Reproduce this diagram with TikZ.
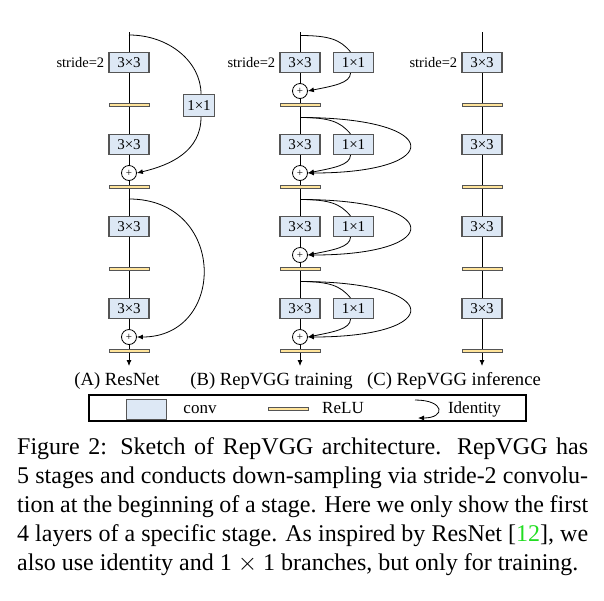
\documentclass[tikz,border=0pt]{standalone}
\usepackage{fontspec}
\setmainfont{Liberation Serif}
\usetikzlibrary{arrows.meta,positioning}

\definecolor{convfill}{HTML}{DDE8F5}
\definecolor{convline}{HTML}{555555}
\definecolor{relufill}{HTML}{FFE49B}
\definecolor{citegreen}{HTML}{22DD22}

\tikzset{
	convbox/.style={draw=convline, line width=1.2pt, fill=convfill, minimum width=40pt, minimum height=20pt, inner sep=0pt, font=\fontsize{15}{15}\selectfont},
	relubar/.style={draw=convline, line width=1pt, fill=relufill, minimum width=40pt, minimum height=3.5pt, inner sep=0pt},
	addnode/.style={circle, draw, line width=0.8pt, fill=white, minimum size=15pt, inner sep=0pt, font=\fontsize{11}{11}\selectfont},
	spine/.style={line width=0.8pt},
	branch/.style={line width=0.8pt},
	endtip/.style={-{Latex[length=6pt,width=5pt]}},
	stridelabel/.style={inner sep=0pt, anchor=east, font=\fontsize{14.5}{15}\selectfont},
	collabel/.style={inner sep=0pt, anchor=base, font=\fontsize{18.6}{20}\selectfont},
	legendtext/.style={inner sep=0pt, anchor=base, font=\fontsize{17}{18}\selectfont},
	legendframe/.style={draw, line width=2pt, minimum width=437pt, minimum height=26pt, inner sep=0pt},
	captionbox/.style={anchor=north west, inner sep=0pt, text width=571pt, align=justify, font=\fontsize{24}{29}\selectfont},
}

\begin{document}
\begin{tikzpicture}[x=1pt, y=-1pt]
		%%%%% START %%%%%
		\useasboundingbox (0,0) rectangle (604,600);
		
		% (A) ResNet
		\coordinate (topA) at (129,32);
		\coordinate (brA1) at (129,35);
		\node[convbox] (convA1) at (129,62.5) {3×3};
		\node[relubar] (reluA1) at (129,105) {};
		\node[convbox] (convA2) at (129,144.5) {3×3};
		\node[addnode] (addA1) at (129,173) {+};
		\node[relubar] (reluA2) at (129,187) {};
		\coordinate (brA2) at (129,199);
		\node[convbox] (convA3) at (129,226.5) {3×3};
		\node[relubar] (reluA3) at (129,269) {};
		\node[convbox] (convA4) at (129,308.5) {3×3};
		\node[addnode] (addA2) at (129,337) {+};
		\node[relubar] (reluA4) at (129,351) {};
		\coordinate (endA) at (129,366);
		\node[convbox, minimum width=31pt, minimum height=22pt] (oneA1) at (199,105.5) {1×1};
		\node[stridelabel, left=4pt of convA1] (strideA) {stride=2};
		
		\draw[spine] (topA) -- (convA1) -- (reluA1) -- (convA2) -- (addA1) -- (reluA2) -- (convA3) -- (reluA3) -- (convA4) -- (addA2) -- (reluA4);
		\draw[spine, endtip] (reluA4) -- (endA);
		\draw[branch] (brA1) .. controls +(40,0) and +(0,-32) .. ([xshift=2pt]oneA1.north);
		\draw[branch, endtip] ([xshift=2pt]oneA1.south) .. controls +(0,34) and +(34,-8) .. (addA1.east);
		\draw[branch, endtip] (brA2) .. controls +(98,0) and +(90,0) .. (addA2.east);
		
		% (B) RepVGG training
		\coordinate (topB) at (300,32);
		\foreach \i/\y in {1/62.5, 2/144.5, 3/226.5, 4/308.5} {
			\coordinate (brB\i) at (300,\y-27);
			\node[convbox] (convB\i) at (300,\y) {3×3};
			\node[convbox] (oneB\i) at (353.5,\y) {1×1};
			\node[addnode] (addB\i) at (300,\y+28.5) {+};
			\node[relubar] (reluB\i) at (300,\y+42.5) {};
		}
		\coordinate (endB) at (300,366);
		\node[stridelabel, left=4pt of convB1] (strideB) {stride=2};
		
		\draw[spine] (topB) -- (convB1) -- (addB1) -- (reluB1) -- (convB2) -- (addB2) -- (reluB2) -- (convB3) -- (addB3) -- (reluB3) -- (convB4) -- (addB4) -- (reluB4);
		\draw[spine, endtip] (reluB4) -- (endB);
		\foreach \i in {1,...,4} {
			\draw[branch] (brB\i) .. controls +(30,0) and +(-10,-12) .. ([xshift=-3pt]oneB\i.north);
			\draw[branch, endtip] ([xshift=-3pt]oneB\i.south) .. controls +(0,10) and +(25,-5) .. (addB\i.east);
		}
		\foreach \i in {2,3,4}
			\draw[branch, endtip] (brB\i) .. controls +(145,0) and +(138,0) .. (addB\i.east);
		
		% (C) RepVGG inference
		\coordinate (topC) at (482,32);
		\foreach \i/\y in {1/62.5, 2/144.5, 3/226.5, 4/308.5} {
			\node[convbox] (convC\i) at (482,\y) {3×3};
			\node[relubar] (reluC\i) at (482,\y+42.5) {};
		}
		\coordinate (endC) at (482,366);
		\node[stridelabel, left=4pt of convC1] (strideC) {stride=2};
		
		\draw[spine] (topC) -- (convC1) -- (reluC1) -- (convC2) -- (reluC2) -- (convC3) -- (reluC3) -- (convC4) -- (reluC4);
		\draw[spine, endtip] (reluC4) -- (endC);
		
		% sub-captions
		\node[collabel] (labA) at (117,385) {(A) ResNet};
		\node[collabel] (labB) at (271.5,385) {(B) RepVGG training};
		\node[collabel] (labC) at (454,385) {(C) RepVGG inference};
		
		% legend
		\node[legendframe] (legend) at (307.5,408) {};
		\node[convbox] (legconv) at (146.5,409.5) {};
		\node[legendtext] (legconvtext) at (200,413) {conv};
		\node[relubar, minimum height=3pt] (legrelu) at (288.5,408.5) {};
		\node[legendtext] (legrelutext) at (343,413) {ReLU};
		\coordinate (legidS) at (415,400);
		\coordinate (legidE) at (418,418);
		\draw[branch, endtip] (legidS) .. controls +(30,0) and +(28,0) .. (legidE);
		\node[legendtext] (legidtext) at (474.5,413) {Identity};
		
		% caption
		\node[captionbox] (caption) at (17,437.5) {Figure 2: Sketch of RepVGG architecture. RepVGG has\linebreak
			5 stages and conducts down-sampling via stride-2 convolu-\linebreak
			tion at the beginning of a stage. Here we only show the first\linebreak
			4 layers of a specific stage. As inspired by ResNet [\textcolor{citegreen}{12}], we\linebreak
			also use identity and 1~$\times$~1 branches, but only for training.};
		
		%%%%% END %%%%%
\end{tikzpicture}
\end{document}
